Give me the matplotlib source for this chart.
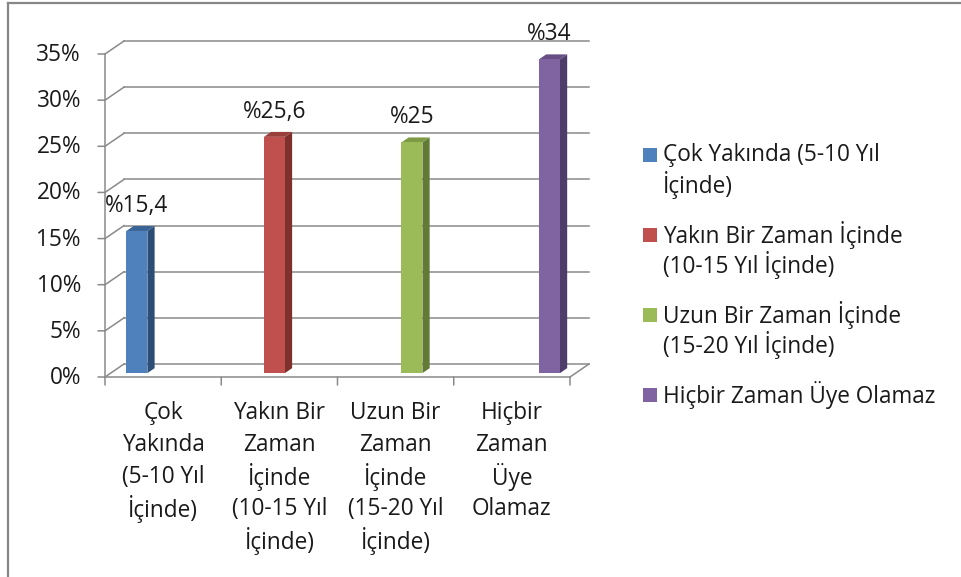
import matplotlib
matplotlib.use('Agg')
import matplotlib.pyplot as plt
from matplotlib.patches import Rectangle, Polygon
from matplotlib.lines import Line2D

# ---------------- data ----------------
categories = [
    "Çok\nYakında\n(5-10 Yıl\nİçinde)",
    "Yakın Bir\nZaman\nİçinde\n(10-15 Yıl\nİçinde)",
    "Uzun Bir\nZaman\nİçinde\n(15-20 Yıl\nİçinde)",
    "Hiçbir\nZaman\nÜye\nOlamaz",
]
legend_labels = [
    "Çok Yakında (5-10 Yıl\nİçinde)",
    "Yakın Bir Zaman İçinde\n(10-15 Yıl İçinde)",
    "Uzun Bir Zaman İçinde\n(15-20 Yıl İçinde)",
    "Hiçbir Zaman Üye Olamaz",
]
values = [15.4, 25.6, 25.0, 34.0]
value_labels = ["%15,4", "%25,6", "%25", "%34"]
yticks = [0, 5, 10, 15, 20, 25, 30, 35]
ytick_labels = ["0%", "5%", "10%", "15%", "20%", "25%", "30%", "35%"]

front_colors = ["#4F81BD", "#C0504D", "#9BBB59", "#8064A2"]
side_colors = ["#2C4D75", "#7E302D", "#617A35", "#4E3C6A"]
top_colors = ["#3A6496", "#99403C", "#7D9A45", "#674F86"]

FONT = "Open Sans"
FS = 16.3
TXT = "#1a1a1a"
GRID = "#8a8a8a"

W, H = 961, 577
fig = plt.figure(figsize=(W / 100, H / 100), dpi=100)
fig.patch.set_facecolor("white")

# axes: x 0..4 -> px 105..570, y 0..35 -> px 377..54
ax_l, ax_r, ax_b, ax_t = 105, 570, 377, 54
ax = fig.add_axes([ax_l / W, (H - ax_b) / H, (ax_r - ax_l) / W, (ax_b - ax_t) / H])
ax.set_xlim(0, 4)
ax.set_ylim(0, 35)
ax.axis("off")

pxx = (ax_r - ax_l) / 4.0
pxy = (ax_b - ax_t) / 35.0
DXd = 19 / pxx   # depth offset in data units
DYd = 13 / pxy


def pt(x, y, f):
    return (x + f * DXd, y + f * DYd)


lw_grid = 1.1
# back wall gridlines and side-wall diagonals
for k, y in enumerate(yticks):
    a, b = pt(0, y, 1), pt(4, y, 1)
    ax.add_line(Line2D([a[0], b[0]], [a[1], b[1]], color=GRID, lw=lw_grid, clip_on=False))
    c = pt(0, y, 0)
    ax.add_line(Line2D([c[0], a[0]], [c[1], a[1]], color=GRID, lw=lw_grid, clip_on=False))
    ax.annotate("", xy=(0, y), xytext=(-7, 0), textcoords="offset pixels",
                arrowprops=dict(arrowstyle="-", color=GRID, lw=lw_grid, shrinkA=0, shrinkB=0))
    ax.annotate(ytick_labels[k], xy=(0, y), xytext=(-24, -1),
                textcoords="offset pixels", ha="right", va="center",
                fontsize=FS, family=FONT, color=TXT)

# front axis + floor
ax.add_line(Line2D([0, 0], [0, 35], color=GRID, lw=lw_grid, clip_on=False))
ax.add_line(Line2D([0, 4], [0, 0], color=GRID, lw=lw_grid, clip_on=False))
r0, r1 = pt(4, 0, 0), pt(4, 0, 1)
ax.add_line(Line2D([r0[0], r1[0]], [r0[1], r1[1]], color=GRID, lw=lw_grid, clip_on=False))
for xi in range(5):
    ax.annotate("", xy=(xi, 0), xytext=(0, -8), textcoords="offset pixels",
                arrowprops=dict(arrowstyle="-", color=GRID, lw=lw_grid, shrinkA=0, shrinkB=0))

# bars
f0, f1 = 0.3, 0.68
bw = 21 / pxx
for i, v in enumerate(values):
    x0 = 0.135 + i * 1.183
    x1 = x0 + bw
    side = [pt(x1, 0, f0), pt(x1, v, f0), pt(x1, v, f1), pt(x1, 0, f1)]
    ax.add_patch(Polygon(side, closed=True, facecolor=side_colors[i], edgecolor="none", clip_on=False, zorder=3))
    top = [pt(x0, v, f0), pt(x1, v, f0), pt(x1, v, f1), pt(x0, v, f1)]
    ax.add_patch(Polygon(top, closed=True, facecolor=top_colors[i], edgecolor="none", clip_on=False, zorder=3))
    bl = pt(x0, 0, f0)
    ax.add_patch(Rectangle(bl, bw, v, facecolor=front_colors[i], edgecolor="none", clip_on=False, zorder=4))
    lab = pt((x0 + x1) / 2, v, f0)
    ax.annotate(value_labels[i], xy=lab, xytext=(0, 25), textcoords="offset pixels",
                ha="center", va="center", fontsize=FS, family=FONT, color=TXT, zorder=5)

# category labels (line by line)
for i, lab in enumerate(categories):
    for j, line in enumerate(lab.split("\n")):
        ax.annotate(line, xy=(i + 0.5, 0), xytext=(0, -(36 + 32 * j)),
                    textcoords="offset pixels", ha="center", va="center",
                    fontsize=FS, family=FONT, color=TXT)

# legend (manual)
leg_y = [155, 235, 315, 395]
for i, lab in enumerate(legend_labels):
    yc = leg_y[i]
    fig.add_artist(Rectangle((643 / W, (H - yc - 7) / H), 14 / W, 14 / H,
                             transform=fig.transFigure, facecolor=front_colors[i], edgecolor="none"))
    for j, line in enumerate(lab.split("\n")):
        fig.text(663 / W, (H - yc - 30 * j) / H, line, ha="left", va="center",
                 fontsize=FS, family=FONT, color=TXT)

# outer frame
fig.add_artist(Line2D([8 / W, 8 / W], [0, (H - 3) / H], transform=fig.transFigure, color="#878787", lw=1.6))
fig.add_artist(Line2D([8 / W, 1], [(H - 3) / H, (H - 3) / H], transform=fig.transFigure, color="#878787", lw=1.6))

fig.savefig("out.png", dpi=100, facecolor="white")
